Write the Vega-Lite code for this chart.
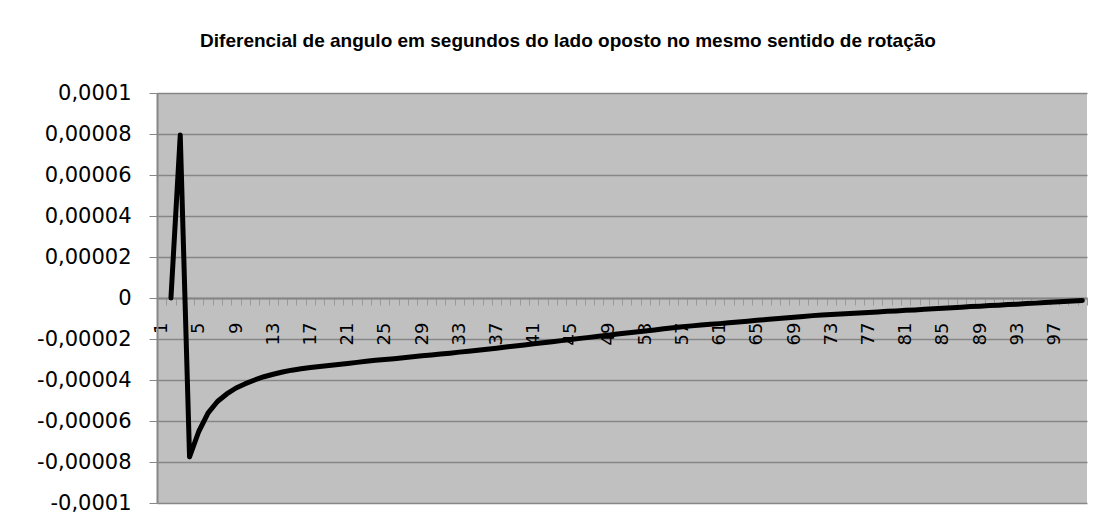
{
  "$schema": "https://vega.github.io/schema/vega-lite/v6.json",
  "autosize": {"type": "none"},
  "width": 930,
  "height": 410,
  "padding": {"left": 157, "top": 93, "right": 16, "bottom": 24},
  "background": "white",
  "title": {
    "text": "Diferencial de angulo em segundos do lado oposto no mesmo sentido de rotação",
    "font": "Liberation Sans",
    "fontSize": 19,
    "fontWeight": "bold",
    "color": "black",
    "frame": "group",
    "anchor": "middle",
    "dx": -54,
    "baseline": "alphabetic",
    "offset": 16
  },
  "config": {
    "view": {"fill": "#C0C0C0", "stroke": null}
  },
  "data": {
    "values": [
      {"i": 1, "v": null},
      {"i": 2, "v": 0},
      {"i": 3, "v": 0.0000795},
      {"i": 4, "v": -0.0000775},
      {"i": 5, "v": -0.0000650},
      {"i": 6, "v": -0.0000560},
      {"i": 7, "v": -0.0000505},
      {"i": 8, "v": -0.0000468},
      {"i": 9, "v": -0.0000439},
      {"i": 10, "v": -0.0000418},
      {"i": 11, "v": -0.0000400},
      {"i": 12, "v": -0.0000384},
      {"i": 13, "v": -0.0000372},
      {"i": 14, "v": -0.0000361},
      {"i": 15, "v": -0.0000352},
      {"i": 16, "v": -0.0000345},
      {"i": 17, "v": -0.0000339},
      {"i": 18, "v": -0.0000334},
      {"i": 19, "v": -0.0000329},
      {"i": 20, "v": -0.0000324},
      {"i": 21, "v": -0.0000319},
      {"i": 22, "v": -0.0000314},
      {"i": 23, "v": -0.0000309},
      {"i": 24, "v": -0.0000304},
      {"i": 25, "v": -0.0000300},
      {"i": 26, "v": -0.0000296},
      {"i": 27, "v": -0.0000291},
      {"i": 28, "v": -0.0000287},
      {"i": 29, "v": -0.0000282},
      {"i": 30, "v": -0.0000278},
      {"i": 31, "v": -0.0000273},
      {"i": 32, "v": -0.0000269},
      {"i": 33, "v": -0.0000264},
      {"i": 34, "v": -0.0000260},
      {"i": 35, "v": -0.0000255},
      {"i": 36, "v": -0.0000250},
      {"i": 37, "v": -0.0000245},
      {"i": 38, "v": -0.0000239},
      {"i": 39, "v": -0.0000234},
      {"i": 40, "v": -0.0000229},
      {"i": 41, "v": -0.0000223},
      {"i": 42, "v": -0.0000218},
      {"i": 43, "v": -0.0000213},
      {"i": 44, "v": -0.0000208},
      {"i": 45, "v": -0.0000202},
      {"i": 46, "v": -0.0000197},
      {"i": 47, "v": -0.0000192},
      {"i": 48, "v": -0.0000187},
      {"i": 49, "v": -0.0000182},
      {"i": 50, "v": -0.0000176},
      {"i": 51, "v": -0.0000171},
      {"i": 52, "v": -0.0000166},
      {"i": 53, "v": -0.0000161},
      {"i": 54, "v": -0.0000156},
      {"i": 55, "v": -0.0000150},
      {"i": 56, "v": -0.0000145},
      {"i": 57, "v": -0.0000140},
      {"i": 58, "v": -0.0000136},
      {"i": 59, "v": -0.0000132},
      {"i": 60, "v": -0.0000128},
      {"i": 61, "v": -0.0000125},
      {"i": 62, "v": -0.0000121},
      {"i": 63, "v": -0.0000117},
      {"i": 64, "v": -0.0000113},
      {"i": 65, "v": -0.0000109},
      {"i": 66, "v": -0.0000105},
      {"i": 67, "v": -0.0000101},
      {"i": 68, "v": -0.0000098},
      {"i": 69, "v": -0.0000094},
      {"i": 70, "v": -0.0000090},
      {"i": 71, "v": -0.0000086},
      {"i": 72, "v": -0.0000083},
      {"i": 73, "v": -0.0000081},
      {"i": 74, "v": -0.0000078},
      {"i": 75, "v": -0.0000076},
      {"i": 76, "v": -0.0000073},
      {"i": 77, "v": -0.0000071},
      {"i": 78, "v": -0.0000068},
      {"i": 79, "v": -0.0000065},
      {"i": 80, "v": -0.0000063},
      {"i": 81, "v": -0.0000060},
      {"i": 82, "v": -0.0000058},
      {"i": 83, "v": -0.0000055},
      {"i": 84, "v": -0.0000053},
      {"i": 85, "v": -0.0000050},
      {"i": 86, "v": -0.0000048},
      {"i": 87, "v": -0.0000045},
      {"i": 88, "v": -0.0000042},
      {"i": 89, "v": -0.0000040},
      {"i": 90, "v": -0.0000037},
      {"i": 91, "v": -0.0000035},
      {"i": 92, "v": -0.0000032},
      {"i": 93, "v": -0.0000030},
      {"i": 94, "v": -0.0000027},
      {"i": 95, "v": -0.0000025},
      {"i": 96, "v": -0.0000022},
      {"i": 97, "v": -0.0000020},
      {"i": 98, "v": -0.0000017},
      {"i": 99, "v": -0.0000015},
      {"i": 100, "v": -0.0000012}
    ]
  },
  "mark": {"type": "line", "color": "black", "strokeWidth": 5, "strokeCap": "round", "strokeJoin": "round"},
  "encoding": {
    "x": {
      "field": "i",
      "type": "ordinal",
      "scale": {"type": "band", "paddingInner": 0, "paddingOuter": 0},
      "axis": {
        "orient": "bottom",
        "offset": -205,
        "title": null,
        "grid": false,
        "domainColor": "#868686",
        "domainWidth": 2,
        "tickColor": "#9a9a9a",
        "tickSize": 7,
        "tickWidth": 1,
        "tickBand": "extent",
        "labelAngle": -90,
        "labelAlign": "right",
        "labelBaseline": "middle",
        "labelPadding": 17,
        "labelFont": "DejaVu Sans",
        "labelFontSize": 18,
        "labelColor": "black",
        "labelOverlap": false,
        "labelExpr": "(datum.value - 1) % 4 === 0 ? datum.label : ''"
      }
    },
    "y": {
      "field": "v",
      "type": "quantitative",
      "scale": {"domain": [-0.0001, 0.0001], "nice": false, "zero": false},
      "axis": {
        "title": null,
        "values": [-0.0001, -0.00008, -0.00006, -0.00004, -0.00002, 0, 0.00002, 0.00004, 0.00006, 0.00008, 0.0001],
        "grid": true,
        "gridColor": "#868686",
        "gridWidth": 1.5,
        "domainColor": "#868686",
        "domainWidth": 2,
        "tickColor": "#868686",
        "tickSize": 8,
        "labelFont": "DejaVu Sans",
        "labelFontSize": 21,
        "labelColor": "black",
        "labelPadding": 18,
        "labelExpr": "replace(replace(format(datum.value, '.5~f'), '.', ','), '\u2212', '-')"
      }
    }
  }
}
